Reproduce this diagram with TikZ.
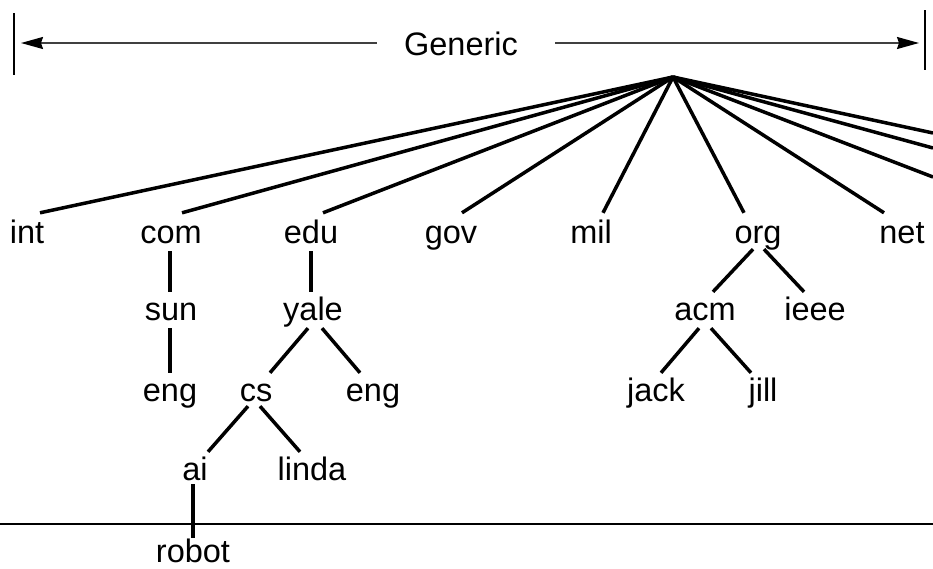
\documentclass[tikz,border=0pt]{standalone}
\usepackage{fontspec}
\setmainfont{Liberation Sans}
\usetikzlibrary{arrows.meta}

\tikzset{
  dom/.style={font=\fontsize{32.5}{38}\selectfont, text height=22pt, text depth=2pt,
              inner xsep=0pt, inner ysep=6pt, anchor=base},
  branch/.style={line width=3.5pt, line cap=butt},
  span/.style={draw=black!75, line width=1.6pt,
               -{Stealth[length=22pt,width=12pt,inset=2pt,fill=black,color=black]}},
  bar/.style={line width=1.8pt}
}

\begin{document}
\begin{tikzpicture}[x=1pt,y=-1pt]
\useasboundingbox (0,0) rectangle (933,568);
\clip (0,0) rectangle (933,568);

% Generic span at the top
\node[font=\fontsize{32.5}{38}\selectfont, text height=23pt, text depth=0pt, inner sep=0pt]
  (gen) at (461,44) {Generic};
\coordinate (lbar) at (14,43);
\coordinate (rbar) at (925,43);
\draw[bar] (14,13) -- (14,75);
\draw[bar] (925,10) -- (925,70);
\draw[span] ([xshift=-27pt]gen.west |- lbar) -- ([xshift=7pt]lbar);
\draw[span] ([xshift=37pt]gen.east |- rbar) -- ([xshift=-6pt]rbar);

% root of the tree
\coordinate (root) at (673,77);

% top-level domains
\node[dom] (int) at (27,243) {int};
\node[dom] (com) at (171,243) {com};
\node[dom] (edu) at (311,243) {edu};
\node[dom] (gov) at (451,243) {gov};
\node[dom] (mil) at (591,243) {mil};
\node[dom] (org) at (758,243) {org};
\node[dom] (net) at (902,243) {net};

% second level
\node[dom] (sun)  at (171,320) {sun};
\node[dom] (yale) at (313,320) {yale};
\node[dom] (acm)  at (705,320) {acm};
\node[dom] (ieee) at (815,320) {ieee};

% third level
\node[dom] (engA) at (170,401) {eng};
\node[dom] (cs)   at (256,401) {cs};
\node[dom] (engB) at (373,401) {eng};
\node[dom] (jack) at (656,401) {jack};
\node[dom] (jill) at (763,401) {jill};

% fourth and fifth level
\node[dom] (ai)    at (195,480) {ai};
\node[dom] (linda) at (312,480) {linda};
\node[dom, text height=24pt, text depth=0pt, inner ysep=0pt] (robot) at (193,562) {robot};

% country domains leaving the frame on the right
\coordinate (cc1) at (933,133);
\coordinate (cc2) at (933,148);
\coordinate (cc3) at (933,177);

% branches from the root
\draw[branch] (root) -- ([xshift=13pt,yshift=2pt]int.north);
\draw[branch] (root) -- ([xshift=11pt,yshift=2pt]com.north);
\draw[branch] (root) -- ([xshift=12pt,yshift=2pt]edu.north);
\draw[branch] (root) -- ([xshift=11pt,yshift=2pt]gov.north);
\draw[branch] (root) -- ([xshift=12pt,yshift=2pt]mil.north);
\draw[branch] (root) -- ([xshift=-14pt,yshift=2pt]org.north);
\draw[branch] (root) -- ([xshift=-18pt,yshift=2pt]net.north);
\draw[branch] (root) -- (cc1);
\draw[branch] (root) -- (cc2);
\draw[branch] (root) -- (cc3);

% lower branches
\draw[branch] ([xshift=-1pt]com.south) -- ([xshift=-1pt]sun.north);
\draw[branch] ([xshift=-1pt]sun.south) -- (engA.north);
\draw[branch] (edu.south) -- ([xshift=-2pt]yale.north);
\draw[branch] ([xshift=-5pt]yale.south) -- ([xshift=14pt]cs.north);
\draw[branch] ([xshift=9pt]yale.south) -- ([xshift=-13pt]engB.north);
\draw[branch] ([xshift=-5pt,yshift=2pt]org.south) -- ([xshift=8pt]acm.north);
\draw[branch] ([xshift=6pt,yshift=2pt]org.south) -- ([xshift=-11pt]ieee.north);
\draw[branch] ([xshift=-6pt]acm.south) -- ([xshift=5pt]jack.north);
\draw[branch] ([xshift=6pt]acm.south) -- ([xshift=-12pt]jill.north);
\draw[branch] ([xshift=-8pt,yshift=3pt]cs.south) -- ([xshift=13pt]ai.north);
\draw[branch] ([xshift=4pt,yshift=3pt]cs.south) -- ([xshift=-12pt]linda.north);
\draw[branch, line width=3.8pt] ([xshift=-2pt,yshift=4pt]ai.south) -- (robot.north);

% horizontal rule across the lower part
\coordinate (ruleL) at (0,524);
\coordinate (ruleR) at (933,524);
\draw[bar] (ruleL) -- (ruleR);
\end{tikzpicture}
\end{document}
